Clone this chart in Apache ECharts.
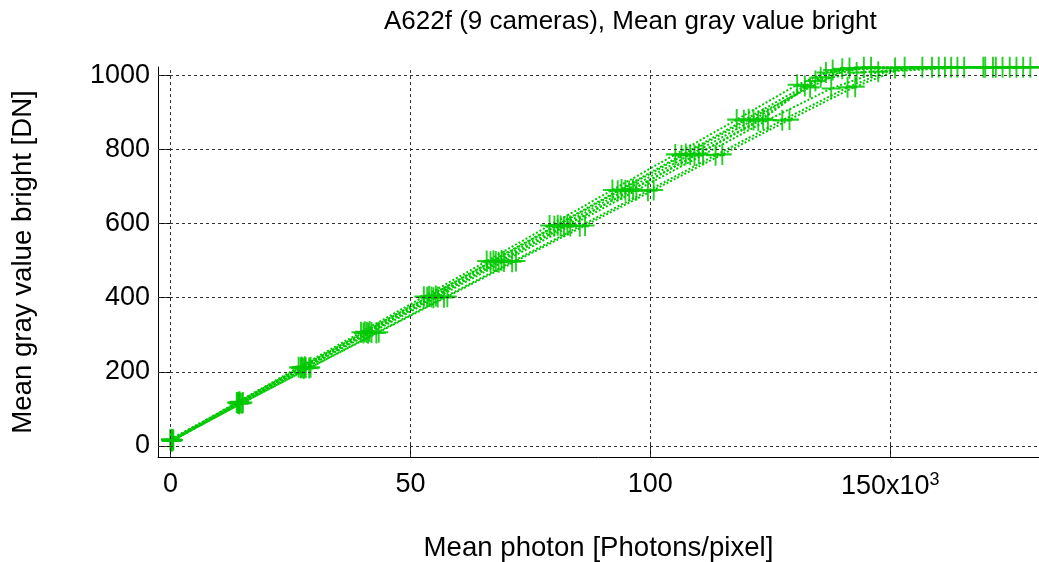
<!DOCTYPE html>
<html>
<head>
<meta charset="utf-8">
<script src="https://cdn.jsdelivr.net/npm/echarts@6/dist/echarts.min.js"></script>
<style>
  html, body { margin: 0; padding: 0; background: #fff; }
  #chart { width: 1039px; height: 562px; }
</style>
</head>
<body>
<div id="chart"></div>
<script>
// Mean photon count (x10^3 photons/pixel) per exposure step, one array per camera
const camX1 = [0.0, 13.8, 26.7, 39.7, 52.8, 65.9, 79.0, 92.1, 105.2, 118.0, 130.6, 138.0, 156.7, 169.8, 182.9];
const camX2 = [0.2, 14.0, 27.1, 40.2, 53.5, 66.7, 80.0, 93.2, 106.5, 119.5, 132.2, 140.0, 158.7, 172.0, 185.3];
const camX3 = [0.4, 14.1, 27.3, 40.5, 53.9, 67.3, 80.7, 94.0, 107.4, 120.5, 133.3, 141.5, 160.1, 173.4];
const camX4 = [0.1, 14.2, 27.5, 40.9, 54.4, 67.8, 81.3, 94.8, 108.3, 121.5, 134.4, 143.0, 161.4, 174.9];
const camX5 = [0.3, 14.3, 27.8, 41.2, 54.8, 68.4, 82.0, 95.6, 109.2, 122.5, 135.5, 144.5, 162.7, 176.3];
const camX6 = [0.0, 14.4, 28.0, 41.5, 55.3, 69.0, 82.7, 96.4, 110.1, 123.5, 136.6, 146.0, 164.0, 177.7];
const camX7 = [0.5, 14.5, 28.2, 41.9, 55.7, 69.5, 83.3, 97.1, 111.0, 124.5, 137.7, 147.5, 165.4, 179.2];
const camX8 = [0.2, 14.9, 28.9, 42.9, 57.0, 71.2, 85.3, 99.5, 113.6, 127.5, 141.1, 151.0, 169.4, 183.5];
const camX9 = [0.6, 15.1, 29.2, 43.4, 57.7, 72.0, 86.4, 100.7, 115.0, 129.0, 142.7, 153.0, 171.4, 185.7];

// Mean gray value (DN) per exposure step, one array per camera
const camY1 = [16, 117, 212, 307, 403, 499, 595, 691, 787, 881, 975, 1015, 1022, 1022, 1022];
const camY2 = [14, 115, 210, 305, 401, 497, 593, 689, 785, 879, 972, 1018, 1022, 1022, 1022];
const camY3 = [17, 118, 213, 308, 404, 500, 596, 692, 788, 882, 968, 1020, 1022, 1022];
const camY4 = [15, 116, 211, 306, 402, 498, 594, 690, 786, 880, 985, 1008, 1022, 1022];
const camY5 = [13, 114, 209, 304, 400, 496, 592, 688, 784, 878, 995, 1022, 1022, 1022];
const camY6 = [18, 119, 214, 309, 405, 501, 597, 693, 789, 883, 1008, 1022, 1022, 1022];
const camY7 = [15, 116, 211, 306, 402, 498, 594, 690, 786, 880, 965, 1010, 1022, 1022];
const camY8 = [14, 115, 210, 305, 401, 497, 593, 689, 785, 879, 968, 1020, 1022, 1022];
const camY9 = [16, 117, 212, 307, 403, 499, 595, 691, 787, 881, 970, 1022, 1022, 1022];

const cameraX = [camX1, camX2, camX3, camX4, camX5, camX6, camX7, camX8, camX9];
const cameraY = [camY1, camY2, camY3, camY4, camY5, camY6, camY7, camY8, camY9];

// Tick positions
const xTicks = [0, 50, 100, 150];
const yTicks = [0, 200, 400, 600, 800, 1000];

const GREEN = '#00c800';
const FONT = '"Liberation Sans", Arial, Helvetica, sans-serif';
const FS = 27;
const PLUS = 'path://M0,9 H20 V11 H0 Z M9,0 H11 V20 H9 Z';

const series = [];

// Dashed grid drawn through the axes' own scales
series.push({
  type: 'line',
  data: [],
  z: 1,
  silent: true,
  markLine: {
    silent: true,
    symbol: 'none',
    label: { show: false },
    animation: false,
    lineStyle: { color: '#333', width: 1, type: [3, 3] },
    data: xTicks.map(v => ({ xAxis: v })).concat(yTicks.map(v => ({ yAxis: v })))
  }
});

cameraX.forEach((xs, i) => {
  series.push({
    type: 'line',
    name: 'Camera ' + (i + 1),
    data: xs.map((x, j) => [x, cameraY[i][j]]),
    z: 3,
    clip: true,
    symbol: PLUS,
    symbolSize: [19, 21],
    showAllSymbol: true,
    itemStyle: { color: GREEN, opacity: 0.85 },
    lineStyle: { color: GREEN, width: 2, type: [2, 2] },
    emphasis: { disabled: true },
    animation: false
  });
});

const chart = echarts.init(document.getElementById('chart'), null, { renderer: 'canvas' });
chart.setOption({
  animation: false,
  backgroundColor: '#fff',
  title: {
    text: 'A622f (9 cameras), Mean gray value bright',
    left: 379,
    top: 4,
    textStyle: { fontFamily: FONT, fontSize: 26, fontWeight: 'normal', color: '#000' }
  },
  grid: { left: 158, right: 0, top: 67, bottom: 105, containLabel: false, outerBoundsMode: 'none' },
  xAxis: {
    type: 'value',
    min: -2.6,
    max: 181,
    name: 'Mean photon [Photons/pixel]',
    nameLocation: 'middle',
    nameGap: 77,
    nameTextStyle: { fontFamily: FONT, fontSize: 27.6, color: '#000' },
    axisLine: { show: true, onZero: false, lineStyle: { color: '#000', width: 1 } },
    axisTick: { show: true, inside: true, length: 12, customValues: xTicks, lineStyle: { color: '#000' } },
    splitLine: { show: false },
    axisLabel: {
      customValues: xTicks,
      margin: 14,
      color: '#000',
      fontFamily: FONT,
      fontSize: FS,
      formatter: v => v === 150 ? '{b|150x10}{s|3}' : String(v),
      rich: {
        b: { fontFamily: FONT, fontSize: FS, color: '#000' },
        s: { fontFamily: FONT, fontSize: 18, color: '#000', verticalAlign: 'bottom', padding: [0, 0, 14, 0] }
      }
    }
  },
  yAxis: {
    type: 'value',
    min: -30,
    max: 1023,
    name: 'Mean gray value bright [DN]',
    nameLocation: 'middle',
    nameGap: 121,
    nameTextStyle: { fontFamily: FONT, fontSize: 27.6, color: '#000' },
    axisLine: { show: true, onZero: false, lineStyle: { color: '#000', width: 1 } },
    axisTick: { show: true, inside: true, length: 12, customValues: yTicks, lineStyle: { color: '#000' } },
    splitLine: { show: false },
    axisLabel: {
      customValues: yTicks,
      margin: 8,
      color: '#000',
      fontFamily: FONT,
      fontSize: FS,
      formatter: v => String(v)
    }
  },
  series: series
});
</script>
</body>
</html>
